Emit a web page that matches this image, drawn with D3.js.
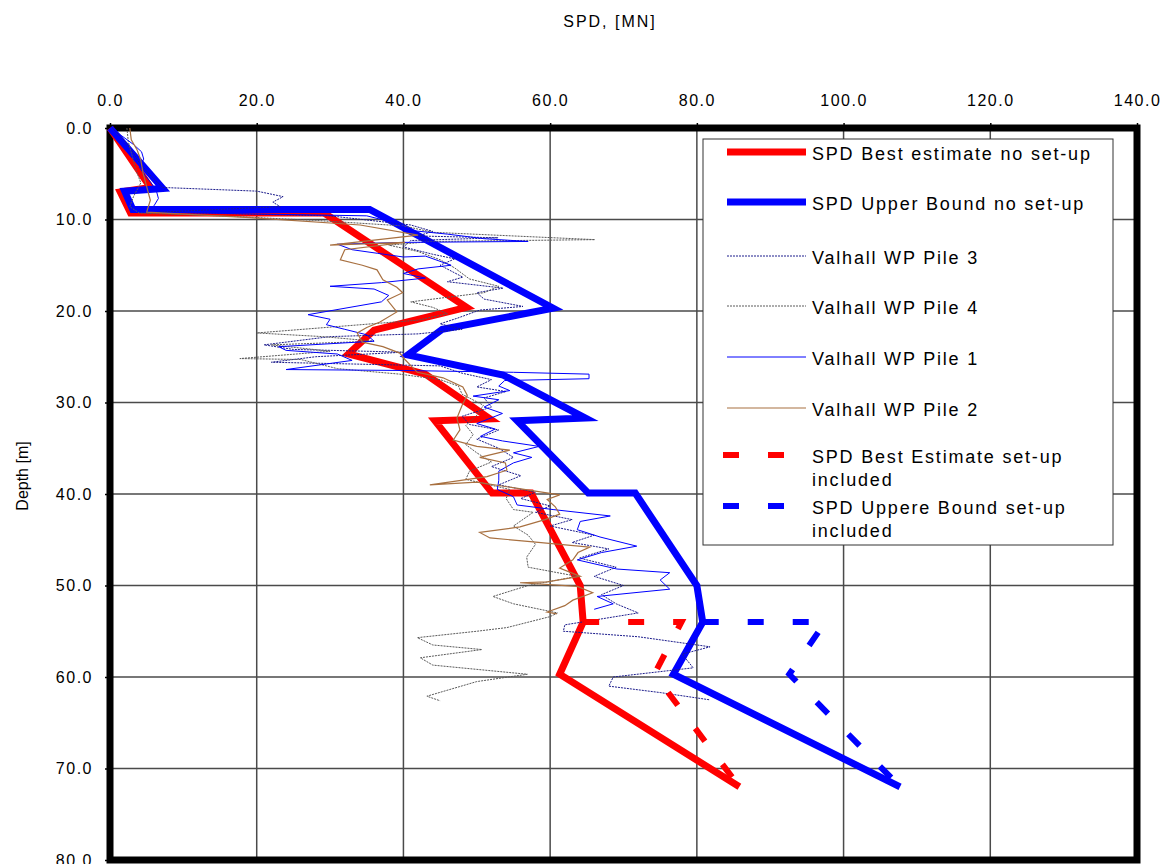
<!DOCTYPE html>
<html>
<head>
<meta charset="utf-8">
<script src="https://cdn.jsdelivr.net/npm/d3@7"></script>
<style>
body { margin: 0; background: #fff; }
svg text { font-family: "Liberation Sans", Arial, sans-serif; fill: #000; }
</style>
</head>
<body>
<div id="chart"></div>
<script>
// each point is [SPD in MN, depth in m]
const bestNoSetup = [[0,0],[5.5,6.5],[1.4,7.0],[2.8,9.3],[29.2,9.3],[48.6,19.6],[36,22.1],[32.5,24.7],[43,26.9],[51.8,31.8],[44.3,32],[52.1,39.9],[57.4,39.9],[64.1,50],[64.5,54],[61.3,59.7],[85.8,72]];
const upperNoSetup = [[0,0],[7.2,6.6],[2.0,6.9],[3.1,8.9],[35.4,8.9],[60.4,19.7],[45.3,22],[40.6,24.8],[53.6,27],[64.8,31.7],[55.5,32],[65.2,39.9],[71.6,39.9],[80,50],[80.8,54],[76.8,59.7],[107.7,72]];
const bestSetup = [[64.5,54],[77.9,54],[74.2,59.7],[85.8,72]];
const upperSetup = [[80.8,54],[97.5,54],[92.6,59.7],[107.7,72]];

const pile3 = [[0.3,0],[1.8,1.2],[3,2.5],[4,3.8],[5.3,5],[7.2,6.5],[20,6.9],[23.6,7.5],[22.2,8.1],[23.2,8.6],[12,9.0],[6.5,9.2],[30,9.6],[41,10.6],[44,11.3],[42,11.8],[52.9,12.0],[41,12.3],[40,13],[44,13.8],[47,14.3],[45,15],[48.1,16.3],[46,16.8],[53.6,17.5],[50,18],[51,18.7],[56.3,19.5],[50.4,19.9],[47.3,20.8],[45,21.4],[48,22],[42,22.5],[30,22.8],[21,23.7],[25,24.2],[40,24.5],[28,25],[22,25.6],[45,26],[48,26.8],[52,27.5],[50,28.3],[54,28.8],[51,29.5],[52,30.5],[48,31.5],[49,32.4],[53,33],[50,34],[53,35],[55,36],[52,37],[56,38],[53,39],[58,39.8],[56,40.5],[60,41.3],[58,42],[63,42.8],[60,43.5],[66,44.5],[63,45.3],[68,46],[64,47],[69,48],[66,49],[70,50],[67,51],[69,52],[72,53],[62,54.3],[61.8,55],[72,55.6],[81.8,56.7],[78,57.5],[79.5,59],[68.6,60],[68,61],[75,61.7],[81.8,62.5]];
const pile4 = [[2.3,0],[2.5,1.5],[3,3],[3.5,4.5],[4.2,6],[3.2,7.5],[2.7,8.6],[4,9.3],[15,9.6],[28,10.1],[40,10.7],[44,11.4],[66.1,12.2],[44,12.4],[38,12.8],[42,13.5],[45,14.4],[47,15.3],[49,16.5],[53,17.3],[51,18],[41,19.0],[44,19.6],[46,20.3],[42,21],[20,22.4],[29,22.8],[36,23.3],[22,23.7],[30,24.4],[17.7,25.2],[26,25.3],[31,26.3],[39.5,26.9],[45,27.5],[47.5,28.2],[48,29.1],[50.9,30.3],[50,31.4],[48.5,32.5],[49.5,33.5],[48.5,34.6],[50,35.5],[52,36.5],[49,37.5],[48.5,38.4],[54.5,39.5],[54,40.5],[55,41.7],[57.7,42],[55,43.5],[57,44.5],[58,45.5],[56.8,46.9],[57,48],[63.7,49],[57,50],[52.2,51.2],[55,52],[61,53],[60,53.4],[54.1,54.6],[50,55],[41.9,55.7],[44,56.5],[50.7,57],[42.3,57.9],[44,58.7],[56.9,59.7],[50,60.5],[43.2,62.1],[45,62.6]];
const pile1 = [[0.4,0],[1.5,0.8],[3.2,1.8],[4.3,2.6],[4.6,3.4],[4.0,4.3],[4.8,5.2],[5.6,6.0],[6.3,6.8],[6.6,7.7],[6.0,8.5],[6.6,9.2],[20,9.4],[35,9.6],[39,10.4],[41,11.2],[46,11.6],[51,12.1],[57,12.4],[40,12.5],[31,12.7],[33,13.3],[36.5,13.7],[40,14.1],[43,14.0],[46.5,15.0],[42,15.4],[40,15.9],[43,16.4],[37,16.9],[30,17.3],[36,17.6],[38,18.3],[37,19.0],[27,20.4],[30,20.9],[29.5,21.5],[32,22.0],[35,22.6],[36,23.3],[23,23.9],[24,24.3],[31,24.7],[33,25.4],[24,26.4],[40,26.5],[55,26.7],[65.3,26.9],[65.3,27.4],[53.8,27.6],[53,28.2],[54.5,28.7],[49.5,29.3],[53,29.7],[51,30.5],[53.5,31.2],[50,32.3],[52.5,32.9],[50.5,33.7],[53.5,34.2],[58.5,34.8],[55,35.5],[57.5,36.0],[55,36.6],[53,37.5],[53,38.5],[52.8,39.5],[55,40.3],[55.5,41.2],[60.4,41.7],[68.2,42.4],[64.1,43.0],[63.7,43.9],[66.8,44.7],[71.8,45.7],[67,46.4],[63.7,47.2],[69.1,48.2],[76.3,48.6],[75,49.4],[76.3,50.4],[66.4,51.2],[68.6,52.0],[66,52.6]];
const pile2 = [[2.7,0],[2.9,1.3],[3.7,2.4],[4.2,3.5],[4.5,4.9],[5.0,6.4],[5.5,7.9],[5.0,9.2],[19.1,9.8],[34.1,10.6],[42,11.7],[30,12.8],[40.2,12.5],[32,13.3],[31.4,14.4],[34.4,15.0],[36.4,15.5],[37.2,16.6],[39.1,17.4],[39.9,18.0],[37.8,18.8],[39.1,20.1],[36.8,21.2],[35,21.8],[33.7,22.4],[34.4,23.4],[37.2,23.9],[39.5,24.6],[40.2,25.3],[41.9,26.7],[45.4,27.3],[48.1,28.3],[48.7,29.2],[48,30.3],[47.3,31.7],[47.7,33],[46.8,34.1],[50,34.8],[54.5,35.2],[50.4,36],[53.9,36.6],[54.1,37.4],[51.4,38.1],[43.6,39.0],[50,38.7],[61.3,40.1],[59.6,40.6],[60.7,41.4],[61.3,42.2],[59.3,42.8],[55.9,43.6],[50.4,44.2],[51.8,44.8],[57.3,45.2],[65.4,45.8],[63.8,46.4],[63.1,47.2],[61.3,48.1],[64.1,49],[59.6,49.6],[55.9,49.7],[63.7,50.1],[65.8,50.8],[63.1,51.6],[62,52.2],[59.6,52.9],[60.9,53.1]];

const xTicks = [0, 20, 40, 60, 80, 100, 120, 140];
const yTicks = [0, 10, 20, 30, 40, 50, 60, 70, 80];
const legendLabels = [
    ["SPD Best estimate no set-up"],
    ["SPD Upper Bound no set-up"],
    ["Valhall WP Pile 3"],
    ["Valhall WP Pile 4"],
    ["Valhall WP Pile 1"],
    ["Valhall WP Pile 2"],
    ["SPD Best Estimate set-up", "included"],
    ["SPD Uppere Bound set-up", "included"]
];

const width = 1164, height = 864;
const plot = {left: 110, top: 128, right: 1137, bottom: 860};

const svg = d3.select("#chart")
    .append("svg")
    .attr("width", width)
    .attr("height", height);

const x = d3.scaleLinear().domain([0, 140]).range([plot.left, plot.right]);
const y = d3.scaleLinear().domain([0, 80]).range([plot.top, plot.bottom]);

// grid
svg.append("g").selectAll("line")
    .data(xTicks.slice(1, -1))
    .enter().append("line")
    .attr("x1", d => x(d)).attr("x2", d => x(d))
    .attr("y1", plot.top).attr("y2", plot.bottom)
    .attr("stroke", "#4a4a4a")
    .attr("stroke-width", 1.5);
svg.append("g").selectAll("line")
    .data(yTicks.slice(1, -1))
    .enter().append("line")
    .attr("x1", plot.left).attr("x2", plot.right)
    .attr("y1", d => y(d)).attr("y2", d => y(d))
    .attr("stroke", "#4a4a4a")
    .attr("stroke-width", 1.5);

// axes
const fmt = d3.format(".1f");
svg.append("g")
    .attr("transform", "translate(0," + plot.top + ")")
    .call(d3.axisTop(x).tickValues(xTicks).tickFormat(fmt).tickSize(5).tickPadding(17))
    .call(g => g.select(".domain").remove())
    .selectAll("text")
    .style("font-size", "16px")
    .style("letter-spacing", "1.5px");

svg.append("g")
    .attr("transform", "translate(" + plot.left + ",0)")
    .call(d3.axisLeft(y).tickValues(yTicks).tickFormat(fmt).tickSize(5).tickPadding(12))
    .call(g => g.select(".domain").remove())
    .selectAll("text")
    .style("font-size", "16px")
    .style("letter-spacing", "1.5px");

svg.selectAll(".tick line").attr("stroke", "#000").attr("stroke-width", 1.5);

// frame
svg.append("rect")
    .attr("x", plot.left).attr("y", plot.top)
    .attr("width", plot.right - plot.left)
    .attr("height", plot.bottom - plot.top)
    .attr("fill", "none")
    .attr("stroke", "#000")
    .attr("stroke-width", 7);

const line = d3.line()
    .x(d => x(d[0]))
    .y(d => y(d[1]));

const series = [
    {data: bestNoSetup, color: "#ff0000", w: 7, dash: null},
    {data: upperNoSetup, color: "#0000ff", w: 7, dash: null},
    {data: pile3, color: "#1c1c8c", w: 1, dash: "2,1"},
    {data: pile4, color: "#5a5a5a", w: 1, dash: "2,1"},
    {data: pile1, color: "#0000ff", w: 1, dash: null},
    {data: pile2, color: "#a87040", w: 1.2, dash: null},
    {data: bestSetup, color: "#ff0000", w: 6, dash: "16,29"},
    {data: upperSetup, color: "#0000ff", w: 6, dash: "16,29"}
];

series.forEach(s => {
    svg.append("path")
        .attr("d", line(s.data))
        .attr("fill", "none")
        .attr("stroke", s.color)
        .attr("stroke-width", s.w)
        .attr("stroke-dasharray", s.dash);
});

// legend
const legend = svg.append("g");
legend.append("rect")
    .attr("x", 703).attr("y", 139)
    .attr("width", 410).attr("height", 406)
    .attr("fill", "#fff")
    .attr("stroke", "#333")
    .attr("stroke-width", 1);

const legendY = [152, 202, 256, 306, 357, 408, 455, 506];
series.forEach((s, i) => {
    const ly = legendY[i];
    if (s.dash && s.w > 2) {
        legend.append("line")
            .attr("x1", 723).attr("x2", 785)
            .attr("y1", ly).attr("y2", ly)
            .attr("stroke", s.color)
            .attr("stroke-width", s.w)
            .attr("stroke-dasharray", "16,29");
    } else {
        legend.append("line")
            .attr("x1", 727).attr("x2", 806)
            .attr("y1", ly).attr("y2", ly)
            .attr("stroke", s.color)
            .attr("stroke-width", s.w)
            .attr("stroke-dasharray", s.dash);
    }
    const t = legend.append("text")
        .attr("x", 812)
        .attr("y", ly + 8)
        .style("font-size", "18px")
        .style("letter-spacing", "1.8px");
    legendLabels[i].forEach((txt, j) => {
        t.append("tspan").attr("x", 812).attr("dy", j ? 23 : 0).text(txt);
    });
});

// titles
svg.append("text")
    .attr("x", 610).attr("y", 27)
    .attr("text-anchor", "middle")
    .style("font-size", "16px")
    .style("letter-spacing", "2px")
    .text("SPD, [MN]");

svg.append("text")
    .attr("transform", "translate(28,476) rotate(-90)")
    .attr("text-anchor", "middle")
    .style("font-size", "16px")
    .text("Depth [m]");
</script>
</body>
</html>
